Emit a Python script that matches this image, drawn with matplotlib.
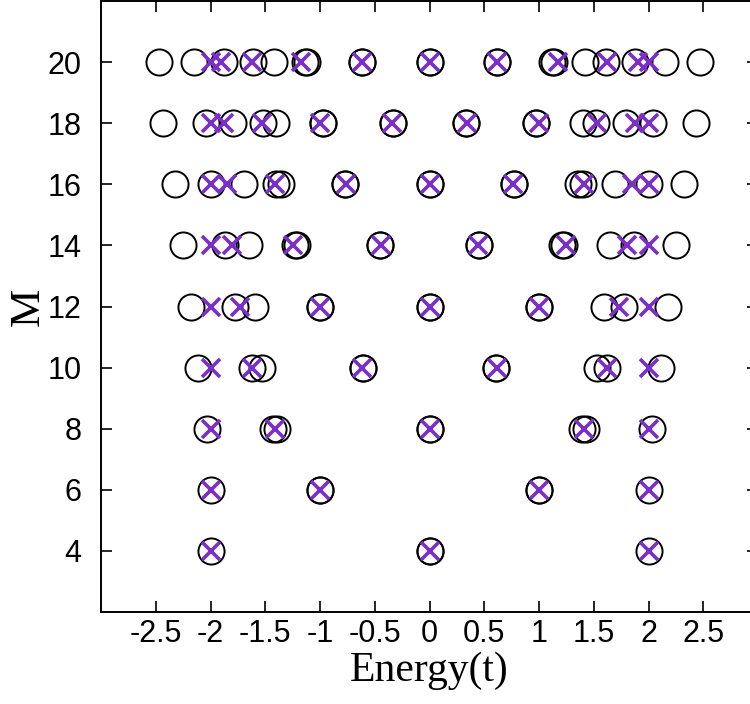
import matplotlib
matplotlib.use("Agg")
import matplotlib.pyplot as plt

# system sizes (rows)
sizes = [4, 6, 8, 10, 12, 14, 16, 18, 20]

# open circles: energies (repeated values = overlapping circles)
circle_E = {
    4: [-2.0, 0.0, 0.0, 2.0],
    6: [-2.0, -1.0, -1.0, 1.0, 1.0, 2.0],
    8: [-2.03, -1.43, -1.39, 0.0, 0.0, 1.39, 1.43, 2.03],
    10: [-2.11, -1.62, -1.53, -0.61, -0.61, 0.61, 0.61, 1.53, 1.62, 2.11],
    12: [-2.18, -1.78, -1.59, -1.0, -1.0, 0.0, 0.0, 1.0, 1.0, 1.59, 1.78, 2.18],
    14: [-2.25, -1.87, -1.65, -1.23, -1.21, -0.45, -0.45,
         0.45, 0.45, 1.21, 1.23, 1.65, 1.87, 2.25],
    16: [-2.32, -2.0, -1.69, -1.40, -1.36, -0.77, -0.77, 0.0,
         0.0, 0.77, 0.77, 1.36, 1.40, 1.69, 2.0, 2.32],
    18: [-2.43, -2.04, -1.79, -1.52, -1.40, -0.975, -0.975, -0.33, -0.33,
         0.33, 0.33, 0.975, 0.975, 1.40, 1.52, 1.79, 2.04, 2.43],
    20: [-2.47, -2.155, -1.876, -1.614, -1.42, -1.14, -1.12, -0.618, -0.618, 0.0,
         0.0, 0.618, 0.618, 1.12, 1.14, 1.42, 1.614, 1.876, 2.155, 2.47],
}

# purple crosses
cross_E = {
    4: [-2.0, 0.0, 2.0],
    6: [-2.0, -1.0, 1.0, 2.0],
    8: [-2.0, -1.414, 0.0, 1.414, 2.0],
    10: [-2.0, -1.618, -0.618, 0.618, 1.618, 2.0],
    12: [-2.0, -1.732, -1.0, 0.0, 1.0, 1.732, 2.0],
    14: [-2.0, -1.802, -1.247, -0.445, 0.445, 1.247, 1.802, 2.0],
    16: [-2.0, -1.848, -1.414, -0.765, 0.0, 0.765, 1.414, 1.848, 2.0],
    18: [-2.0, -1.879, -1.532, -1.0, -0.347, 0.347, 1.0, 1.532, 1.879, 2.0],
    20: [-2.0, -1.902, -1.618, -1.176, -0.618, 0.0, 0.618, 1.176, 1.618, 1.902, 2.0],
}

xticks = [-2.5, -2, -1.5, -1, -0.5, 0, 0.5, 1, 1.5, 2, 2.5]
xticklabels = ['-2.5', '-2', '-1.5', '-1', '-0.5', '0', '0.5', '1', '1.5', '2', '2.5']
yticks = [4, 6, 8, 10, 12, 14, 16, 18, 20]

purple = '#7a2fc8'

fig = plt.figure(figsize=(7.5, 7.04), dpi=100)
# right spine sits just outside the image, as in the reference
ax = fig.add_axes([101 / 750, 92 / 704, 657 / 750, 611 / 704])

for m in sizes:
    ax.plot(circle_E[m], [m] * len(circle_E[m]), linestyle='none', marker='o',
            ms=18.8, mfc='none', mec='black', mew=1.4, zorder=2)
    ax.plot(cross_E[m], [m] * len(cross_E[m]), linestyle='none', marker='x',
            ms=13.5, mec=purple, mew=2.6, zorder=3)

ax.set_xlim(-3, 3)
ax.set_ylim(2, 22)
ax.set_xticks(xticks)
ax.set_xticklabels(xticklabels)
ax.set_yticks(yticks)

for s in ax.spines.values():
    s.set_linewidth(1.4)
ax.tick_params(direction='in', length=8, width=1.2, top=True, right=True,
               labelsize=22)
ax.tick_params(axis='x', pad=5)
ax.tick_params(axis='y', pad=14)
for lab in ax.get_xticklabels() + ax.get_yticklabels():
    lab.set_family('Liberation Sans')

ax.set_xlabel('Energy(t)', family='Liberation Serif', fontsize=30, labelpad=2)
ax.set_ylabel('M', family='Liberation Serif', fontsize=31, labelpad=0)

fig.savefig('out.png', dpi=100)
